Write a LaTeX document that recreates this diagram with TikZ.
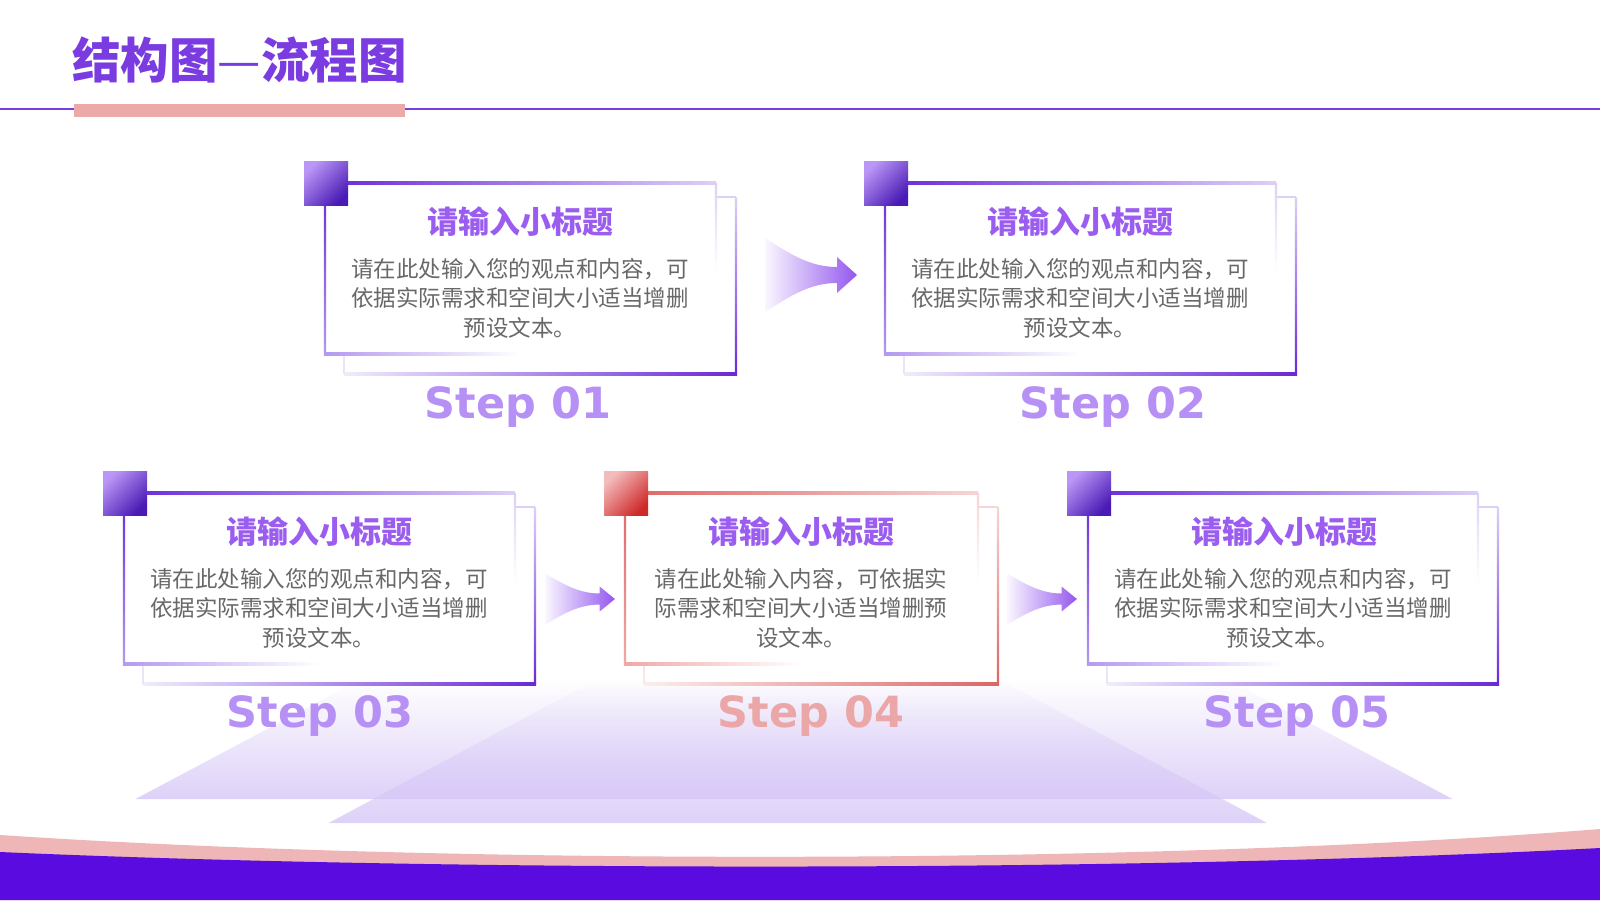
\documentclass[tikz,border=0pt]{standalone}
\usepackage{fontspec}
\newfontfamily\cjk{Noto Sans CJK SC}
\newfontfamily\stepfont{DejaVu Sans}
\usetikzlibrary{fadings}

\definecolor{titlepurple}{HTML}{7A3CE0}
\definecolor{subpurple}{HTML}{9B5CF0}
\definecolor{bodygray}{HTML}{686868}
\definecolor{steppurple}{HTML}{B690F5}
\definecolor{steppink}{HTML}{EBA7A7}
\definecolor{pinkbar}{HTML}{EBA9A9}
\definecolor{botpink}{HTML}{EEB6B6}
\definecolor{botpurple}{HTML}{5A0BDF}
\definecolor{linepurple}{HTML}{7B3FE0}
\definecolor{pdark}{HTML}{6A28D8}
\definecolor{pmid}{HTML}{B49AF0}
\definecolor{plight}{HTML}{DCD0F7}
\definecolor{sqlight}{HTML}{BA96F6}
\definecolor{sqdark}{HTML}{4A1AB5}
\definecolor{rdark}{HTML}{DE6464}
\definecolor{rmid}{HTML}{F0A8A8}
\definecolor{rlight}{HTML}{F6D5D5}
\definecolor{rsqlight}{HTML}{F3BCBC}
\definecolor{rsqdark}{HTML}{CF2A2A}
\definecolor{lav}{HTML}{D6C6F7}
\definecolor{arrowpurple}{HTML}{9457EE}
\definecolor{arrowlight}{HTML}{FAF7FF}

\tikzset{
  maintitle/.style={font=\cjk\bfseries\fontsize{48.5}{52}\selectfont, text=titlepurple, inner sep=0pt, anchor=west},
  cardtitle/.style={font=\cjk\bfseries\fontsize{31}{34}\selectfont, text=subpurple, inner sep=0pt},
  cardbody/.style={font=\cjk\fontsize{22.5}{29.5}\selectfont, text=bodygray, align=center, inner sep=0pt},
  steplabel/.style={font=\stepfont\bfseries\fontsize{43}{46}\selectfont, inner sep=0pt, anchor=base},
  flowarrow/.style={left color=arrowlight, right color=arrowpurple, draw=none},
  trapez/.style={fill=lav, fill opacity=0.8, path fading=north, draw=none},
}

% #1 x0, #2 y0, #3 x1, #4 y1 (main card), #5 dark, #6 mid, #7 light, #8 square light, #9 square dark
\newcommand\cardframe[9]{%
  % back card
  \fill[white] ({#1+19},{#2+14}) rectangle ({#3+20},{#4+20});
  \fill[#7] ({#3},{#2+14-1.2}) rectangle ({#3+20},{#2+14+1.2});
  \shade[top color=#7, bottom color=#5] ({#3+20-1.2},{#2+14}) rectangle ({#3+20+1.2},{#4+20+1.2});
  \shade[left color=#7!40, right color=#5] ({#1+19},{#4+20-1.2}) rectangle ({#3+20},{#4+20+1.2});
  \fill[#7!60] ({#1+19-1.2},{#4}) rectangle ({#1+19+1.2},{#4+20});
  % main card
  \fill[white] (#1,#2) rectangle (#3,#4);
  \shade[left color=#5, right color=#7] ({#1},{#2-1.2}) rectangle ({#3},{#2+1.2});
  \shade[top color=#5, bottom color=#6] ({#1-1.2},{#2}) rectangle ({#1+1.2},{#4+1.2});
  \shade[left color=#6, right color=white] ({#1},{#4-1.2}) rectangle ({(#1+#3)/2},{#4+1.2});
  \shade[top color=#7, bottom color=white] ({#3-1.2},{#2}) rectangle ({#3+1.2},{#2+90});
  % corner square
  \shade[top color=#8, bottom color=#9, shading angle=45] ({#1-21},{#2-22}) rectangle ({#1+23},{#2+22});
}

\begin{document}
\begin{tikzpicture}[x=1pt, y=-1pt]
\useasboundingbox (0,0) rectangle (1600,900);
\fill[white] (0,0) rectangle (1600,900);

% header
\fill[linepurple] (0,107.8) rectangle (1600,110.2);
\fill[pinkbar] (74,104) rectangle (405,117);
\node[maintitle] (title) at (72,60) {结构图{\mdseries —}流程图};

% background trapezoids
\path[trapez] (360,680) -- (1230,680) -- (1454,799) -- (136,799) -- cycle;
\path[trapez] (596,680) -- (1001,680) -- (1268,823) -- (329,823) -- cycle;

% bottom bands
\fill[botpink] (0,835) .. controls (450,865) and (1150,865) .. (1600,829) -- (1600,900) -- (0,900) -- cycle;
\fill[botpurple] (0,852) .. controls (450,872) and (1150,872) .. (1600,848) -- (1600,900) -- (0,900) -- cycle;

% cards
\cardframe{325}{183}{716}{354}{pdark}{pmid}{plight}{sqlight}{sqdark}
\cardframe{885}{183}{1276}{354}{pdark}{pmid}{plight}{sqlight}{sqdark}
\cardframe{124}{493}{515}{664}{pdark}{pmid}{plight}{sqlight}{sqdark}
\cardframe{625}{493}{978}{664}{rdark}{rmid}{rlight}{rsqlight}{rsqdark}
\cardframe{1088}{493}{1478}{664}{pdark}{pmid}{plight}{sqlight}{sqdark}

% card texts
\node[cardtitle] (t1) at (520,222) {请输入小标题};
\node[cardbody]  (b1) at (520,298) {请在此处输入您的观点和内容，可\\依据实际需求和空间大小适当增删\\预设文本。};
\node[steplabel, text=steppurple] (s1) at (518,418) {Step 01};

\node[cardtitle] (t2) at (1080,222) {请输入小标题};
\node[cardbody]  (b2) at (1080,298) {请在此处输入您的观点和内容，可\\依据实际需求和空间大小适当增删\\预设文本。};
\node[steplabel, text=steppurple] (s2) at (1113,418) {Step 02};

\node[cardtitle] (t3) at (319,532) {请输入小标题};
\node[cardbody]  (b3) at (319,608) {请在此处输入您的观点和内容，可\\依据实际需求和空间大小适当增删\\预设文本。};
\node[steplabel, text=steppurple] (s3) at (320,727) {Step 03};

\node[cardtitle] (t4) at (801,532) {请输入小标题};
\node[cardbody]  (b4) at (801,608) {请在此处输入内容，可依据实\\际需求和空间大小适当增删预\\设文本。};
\node[steplabel, text=steppink] (s4) at (811,727) {Step 04};

\node[cardtitle] (t5) at (1284,532) {请输入小标题};
\node[cardbody]  (b5) at (1283,608) {请在此处输入您的观点和内容，可\\依据实际需求和空间大小适当增删\\预设文本。};
\node[steplabel, text=steppurple] (s5) at (1297,727) {Step 05};

% flow arrows
\begin{scope}[shift={(765,275)}]
  \path[flowarrow] (0,-37) .. controls (25,-21) and (45,-8) .. (72,-8) -- (72,-18) -- (92,0) -- (72,18) -- (72,8) .. controls (45,8) and (25,21) .. (0,37) -- cycle;
\end{scope}
\begin{scope}[shift={(545,599)}, xscale=0.76, yscale=0.69]
  \path[flowarrow] (0,-37) .. controls (25,-21) and (45,-8) .. (72,-8) -- (72,-18) -- (92,0) -- (72,18) -- (72,8) .. controls (45,8) and (25,21) .. (0,37) -- cycle;
\end{scope}
\begin{scope}[shift={(1007,599)}, xscale=0.76, yscale=0.69]
  \path[flowarrow] (0,-37) .. controls (25,-21) and (45,-8) .. (72,-8) -- (72,-18) -- (92,0) -- (72,18) -- (72,8) .. controls (45,8) and (25,21) .. (0,37) -- cycle;
\end{scope}
\end{tikzpicture}
\end{document}
